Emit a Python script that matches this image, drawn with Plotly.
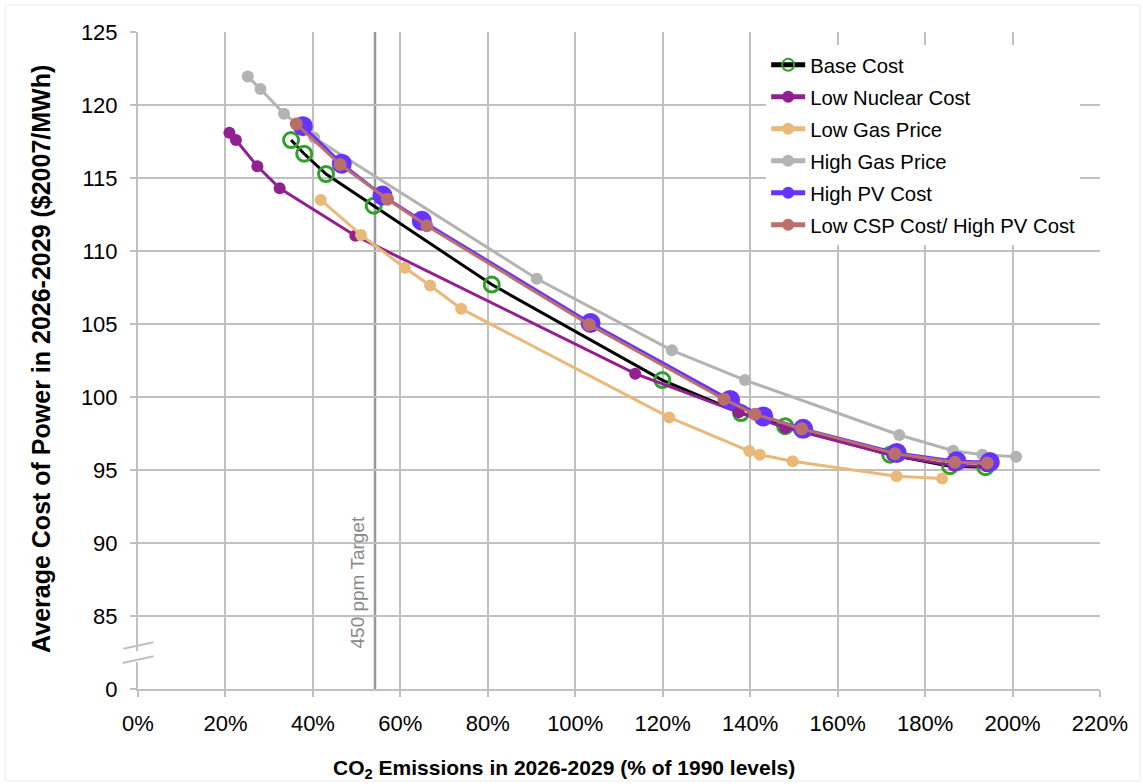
import plotly.graph_objects as go

# ---------------- data ----------------
base_x = [35.0, 38.0, 43.0, 53.9, 80.9, 119.9, 137.9, 148.0, 172.0, 185.7, 193.8]
base_y = [117.6, 116.66, 115.27, 113.1, 107.7, 101.16, 98.9, 98.0, 96.05, 95.26, 95.19]

nuc_x = [20.9, 22.4, 27.3, 32.4, 49.7, 113.7, 137.4, 148.0, 172.5, 186.5, 194.0]
nuc_y = [118.1, 117.6, 115.8, 114.3, 111.05, 101.6, 98.95, 97.9, 96.0, 95.3, 95.25]

lgas_x = [41.8, 51.0, 61.0, 66.8, 73.9, 121.5, 139.8, 142.2, 149.7, 173.5, 183.9]
lgas_y = [113.5, 111.1, 108.85, 107.64, 106.05, 98.6, 96.3, 96.05, 95.6, 94.57, 94.41]

hgas_x = [25.1, 28.0, 33.4, 40.3, 91.2, 122.1, 138.8, 174.1, 186.4, 193.1, 200.8]
hgas_y = [121.95, 121.1, 119.4, 117.75, 108.1, 103.2, 101.16, 97.4, 96.32, 96.05, 95.9]

hpv_x = [37.7, 46.6, 55.9, 64.9, 103.5, 135.4, 143.0, 152.1, 173.5, 187.2, 194.8]
hpv_y = [118.55, 115.98, 113.8, 112.07, 105.07, 99.8, 98.67, 97.82, 96.17, 95.6, 95.55]

csp_x = [36.2, 46.2, 57.05, 66.05, 103.2, 134.0, 141.1, 151.8, 173.1, 186.8, 194.2]
csp_y = [118.7, 115.93, 113.55, 111.73, 104.96, 99.85, 98.82, 97.82, 96.12, 95.53, 95.48]

target_x = 54.2
x_ticks = list(range(0, 221, 20))
x_ticklabels = [f"{v}%" for v in x_ticks]
y_ticks = [80, 85, 90, 95, 100, 105, 110, 115, 120, 125]
y_ticklabels = ["0", "85", "90", "95", "100", "105", "110", "115", "120", "125"]

FONT = "Liberation Sans, Arial, Helvetica, sans-serif"
GRID = "#c0c0c0"

fig = go.Figure()

def add(name, x, y, color, msize, symbol="circle", mcolor=None, mline=0):
    fig.add_trace(go.Scatter(
        x=x, y=y, name=name, mode="lines+markers",
        legendgroup=name,
        line=dict(color=color, width=3),
        marker=dict(symbol=symbol, size=msize, color=mcolor or color,
                    line=dict(width=mline, color=mcolor or color)),
    ))

add("Base Cost", base_x, base_y, "#000000", 15, symbol="circle-open", mcolor="#33a02c", mline=3)
add("Low Nuclear Cost", nuc_x, nuc_y, "#922090", 12)
add("Low Gas Price", lgas_x, lgas_y, "#e9b97a", 12)
add("High Gas Price", hgas_x, hgas_y, "#b3b3b3", 12)
add("High PV Cost", hpv_x, hpv_y, "#6633ff", 20)
add("Low CSP Cost/ High PV Cost", csp_x, csp_y, "#bb6f6a", 13)

shapes = [
    # 450 ppm target line
    dict(type="line", xref="x", yref="y", x0=target_x, x1=target_x, y0=80, y1=125,
         line=dict(color="#999999", width=2.5), layer="below"),
    # gap in y axis line
    dict(type="line", xref="paper", yref="y", x0=0, x1=0, y0=81.85, y1=82.6,
         line=dict(color="white", width=4)),
    # axis break marks
    dict(type="line", xref="paper", yref="y", x0=-0.0153, x1=0.0161, y0=82.76, y1=83.2,
         line=dict(color=GRID, width=2)),
    dict(type="line", xref="paper", yref="y", x0=-0.0159, x1=0.0161, y0=81.78, y1=82.24,
         line=dict(color=GRID, width=2)),
    # faint outer frame
    dict(type="rect", xref="paper", yref="paper", x0=-0.138, x1=1.0416, y0=-0.14, y1=1.041,
         line=dict(color="#ececec", width=1)),
]

annotations = [
    dict(text="450 ppm Target", x=50.1, y=87.3, xref="x", yref="y",
         textangle=-90, showarrow=False, xanchor="center", yanchor="middle",
         font=dict(size=19, color="#888888", family=FONT)),
    dict(text="<b>CO<sub>2</sub> Emissions in 2026-2029 (% of 1990 levels)</b>",
         x=0.443, y=-0.1218, xref="paper", yref="paper", showarrow=False,
         xanchor="center", yanchor="middle", font=dict(size=21, family=FONT)),
    dict(text="<b>Average Cost of Power in 2026-2029 ($2007/MWh)</b>",
         x=-0.1015, y=0.503, xref="paper", yref="paper", showarrow=False, textangle=-90,
         xanchor="center", yanchor="middle", font=dict(size=25, family=FONT)),
]

fig.update_layout(
    width=1143, height=784,
    margin=dict(l=138, r=43, t=32, b=95),
    paper_bgcolor="white", plot_bgcolor="white",
    font=dict(family=FONT, color="#000000", size=20),
    showlegend=True,
    legend=dict(x=0.653, y=0.98, xanchor="left", yanchor="top",
                bgcolor="white", borderwidth=0, tracegroupgap=2.6, itemwidth=34,
                itemsizing="constant", font=dict(size=20.3, family=FONT)),
    shapes=shapes,
    annotations=annotations,
)

fig.update_xaxes(
    range=[0, 220], tickvals=x_ticks, ticktext=x_ticklabels,
    showgrid=True, gridcolor=GRID, gridwidth=2,
    showline=True, linecolor=GRID, linewidth=2,
    ticks="outside", ticklen=6, tickcolor=GRID, tickwidth=2,
    zeroline=False, tickfont=dict(size=22), ticklabelstandoff=8,
)
fig.update_yaxes(
    range=[80, 125], tickvals=y_ticks, ticktext=y_ticklabels,
    showgrid=True, gridcolor=GRID, gridwidth=2,
    showline=True, linecolor=GRID, linewidth=2,
    ticks="outside", ticklen=6, tickcolor=GRID, tickwidth=2,
    zeroline=False, tickfont=dict(size=22), ticklabelstandoff=8,
)

fig.write_html("out.html")
